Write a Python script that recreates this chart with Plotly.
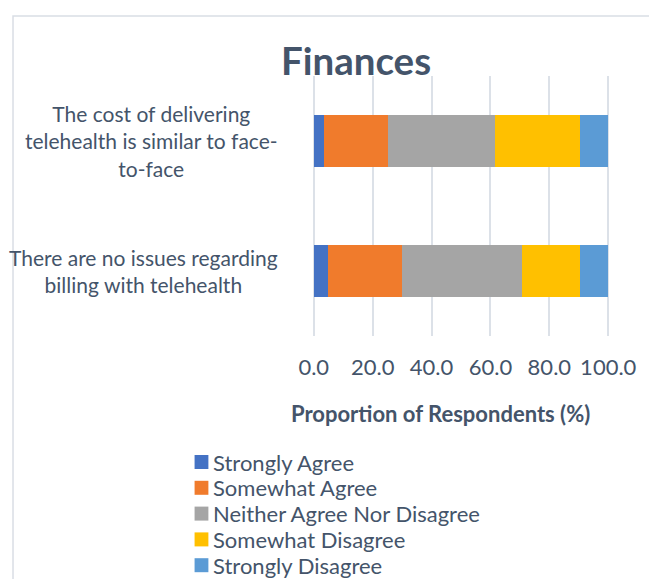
import plotly.graph_objects as go

categories = [
    "The cost of delivering<br>telehealth is similar to face-<br>to-face",
    "There are no issues regarding<br>billing with telehealth",
]
series_names = [
    "Strongly Agree",
    "Somewhat Agree",
    "Neither Agree Nor Disagree",
    "Somewhat Disagree",
    "Strongly Disagree",
]
strongly_agree = [3.5, 4.8]
somewhat_agree = [21.8, 25.2]
neither = [36.3, 40.6]
somewhat_disagree = [28.9, 19.8]
strongly_disagree = [9.5, 9.6]
tick_vals = [0, 20, 40, 60, 80, 100]
tick_labels = ["0.0", "20.0", "40.0", "60.0", "80.0", "100.0"]

values = [strongly_agree, somewhat_agree, neither, somewhat_disagree, strongly_disagree]
colors = ["#4472C4", "#F07B2C", "#A5A5A5", "#FFC000", "#5B9BD5"]

TEXT = "#44546A"
FONT = "Lato"

W, H = 649, 579
L, R, T, B = 312, 35, 76, 243
pw = W - L - R
ph = H - T - B


def px_x(px):
    return (px - L) / pw


def px_y(py):
    return (H - B - py) / ph


fig = go.Figure()
for name, vals, col in zip(series_names, values, colors):
    fig.add_trace(go.Bar(
        y=categories, x=vals, name=name, orientation="h",
        marker=dict(color=col, line=dict(width=0)),
        showlegend=False,
    ))

fig.update_layout(
    width=W, height=H,
    barmode="stack",
    bargap=0.595,
    plot_bgcolor="white", paper_bgcolor="white",
    margin=dict(l=L, r=R, t=T, b=B, pad=0),
    font=dict(family=FONT, color=TEXT),
    title=dict(text="<b>Finances</b>", x=356 / W, xanchor="center",
               y=1 - 62 / H, yanchor="middle", yref="container",
               font=dict(size=38.5, color=TEXT, family=FONT)),
    xaxis=dict(range=[-0.6, 100.6], tickvals=tick_vals, ticktext=tick_labels,
               showgrid=True, gridcolor="#DCE1E8", gridwidth=1.5,
               zeroline=False, showline=False,
               ticks="outside", ticklen=12, tickcolor="rgba(0,0,0,0)",
               tickfont=dict(size=22, color=TEXT, family=FONT)),
    yaxis=dict(autorange="reversed", showticklabels=False, showgrid=False,
               zeroline=False, showline=False, ticks=""),
    showlegend=False,
)

for cat in categories:
    fig.add_annotation(x=px_x(280), xref="paper", xanchor="right",
                       y=cat, yref="y", yanchor="middle",
                       text=cat, showarrow=False, align="center",
                       font=dict(size=21, color=TEXT, family=FONT))

fig.add_annotation(x=px_x(442), xref="paper", xanchor="center",
                   y=px_y(413), yref="paper", yanchor="middle",
                   text="<b>Proportion of Respondents (%)</b>", showarrow=False,
                   font=dict(size=22, color=TEXT, family=FONT))

# legend (drawn from the series names and colours)
leg_top = 462
leg_step = 25.8
for i, (name, col) in enumerate(zip(series_names, colors)):
    cy = leg_top + i * leg_step
    fig.add_shape(type="rect", xref="paper", yref="paper",
                  x0=px_x(193), x1=px_x(207), y0=px_y(cy + 7), y1=px_y(cy - 7),
                  fillcolor=col, line=dict(width=0))
    fig.add_annotation(x=px_x(210), xref="paper", xanchor="left",
                       y=px_y(cy), yref="paper", yanchor="middle",
                       text=name, showarrow=False,
                       font=dict(size=22, color=TEXT, family=FONT))

fig.add_shape(type="rect", xref="paper", yref="paper",
              x0=px_x(9), x1=px_x(W + 20),
              y0=px_y(H + 20), y1=px_y(16),
              line=dict(color="#D9DEE5", width=1.5), layer="below")

fig.write_html("out.html", config={"displayModeBar": False},
               post_script="document.body.style.margin='0';document.body.style.overflow='hidden';")
